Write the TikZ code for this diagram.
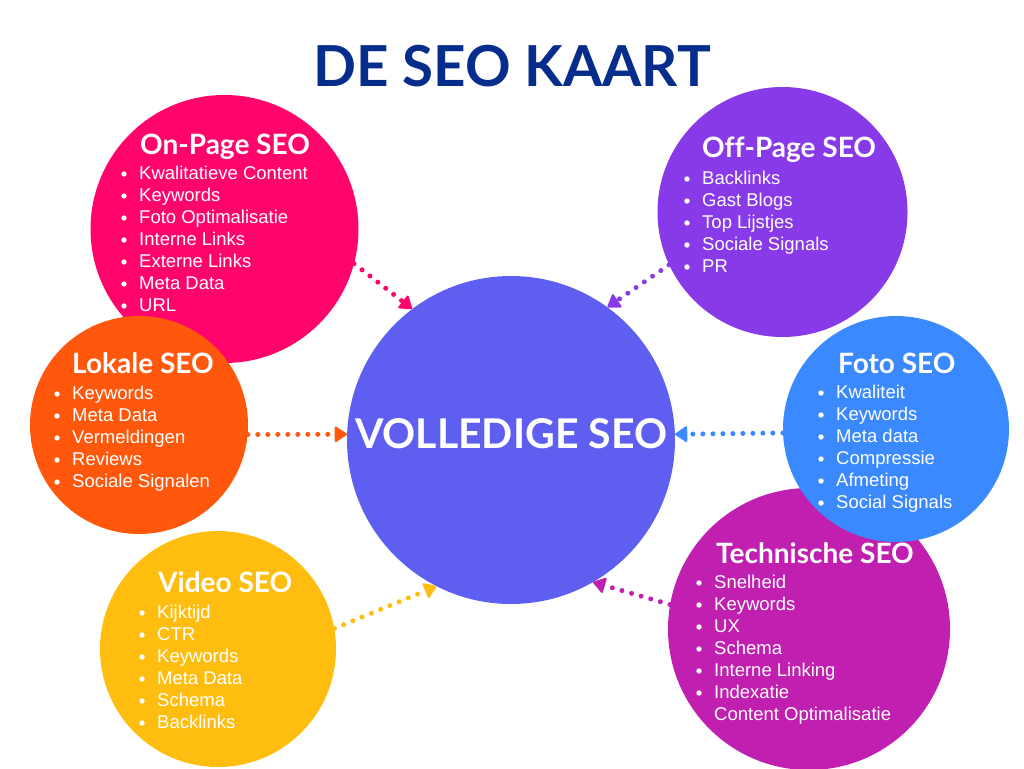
\documentclass[tikz,border=0pt]{standalone}
\usepackage{fontspec}
\setmainfont{Liberation Sans}
\newfontfamily\latofont{Lato}[Ligatures=NoCommon]
\usetikzlibrary{arrows.meta}

\definecolor{kaartnavy}{HTML}{062C8C}
\definecolor{seoblue}{HTML}{5E5FF0}
\definecolor{onpagepink}{HTML}{FF056C}
\definecolor{offpagepurple}{HTML}{883AE8}
\definecolor{lokaleorange}{HTML}{FF580C}
\definecolor{fotoblue}{HTML}{3B89FF}
\definecolor{videoyellow}{HTML}{FFBE0F}
\definecolor{technischemagenta}{HTML}{C01FB0}

\tikzset{
  bubble/.style={circle, inner sep=0pt, minimum size=#1},
  head/.style={font=\latofont\bfseries\fontsize{28}{30}\selectfont, text=white, anchor=base west, inner sep=0pt},
  point/.style={font=\fontsize{18.5}{22}\selectfont, text=white, anchor=base west, inner sep=0pt},
  link/.style={line width=5pt, line cap=round, dash pattern=on 0pt off 10pt,
    -{Triangle[length=13pt, width=17pt, line width=2pt, round]}},
}

% list of points with white bullets
\newcommand{\seopoints}[4]{%
  \foreach \txt [count=\i] in {#4} {
    \node[point] (#1-\i) at (#2, #3+22*\i-22) {\txt};
    \fill[white] (#2-15, #3+22*\i-27) circle (2.7pt);
  }}

\begin{document}
\begin{tikzpicture}[x=1pt, y=-1pt]
			\useasboundingbox (0,0) rectangle (1024,768);
			
			\node[font=\latofont\bfseries\fontsize{56.5}{60}\selectfont, text=kaartnavy, anchor=base, inner sep=0pt] (titel) at (512, 86) {DE SEO KAART};
			
			%%%%% CIRCLES %%%%%
			\node[bubble=268pt, fill=onpagepink] (onpage) at (224.5, 229) {};
			\node[bubble=250pt, fill=offpagepurple] (offpage) at (782.5, 212) {};
			\node[bubble=236pt, fill=videoyellow] (video) at (218, 649) {};
			\node[bubble=218pt, fill=lokaleorange] (lokale) at (139, 425) {};
			\node[bubble=282pt, fill=technischemagenta] (technische) at (809, 629) {};
			\node[bubble=226pt, fill=fotoblue] (foto) at (896, 429) {};
			\node[bubble=328pt, fill=seoblue] (seo) at (511, 440) {};
			
			\node[font=\latofont\bfseries\fontsize{41}{44}\selectfont, text=white, anchor=base, inner sep=0pt] (volledig) at (511, 448) {VOLLEDIGE SEO};
			
			%%%%% TEXTS %%%%%
			\node[head] (onpagekop) at (140, 154) {On-Page SEO};
			\seopoints{onpagelijst}{139}{179}{Kwalitatieve Content, Keywords, Foto Optimalisatie, Interne Links, Externe Links, Meta Data, URL}
			
			\node[head] (offpagekop) at (702, 157) {Off-Page SEO};
			\seopoints{offpagelijst}{702}{184}{Backlinks, Gast Blogs, Top Lijstjes, Sociale Signals, PR}
			
			\node[head] (lokalekop) at (72, 373) {Lokale SEO};
			\seopoints{lokalelijst}{72}{399}{Keywords, Meta Data, Vermeldingen, Reviews, Sociale Signalen}
			
			\node[head] (fotokop) at (838, 373) {Foto SEO};
			\seopoints{fotolijst}{836}{398}{Kwaliteit, Keywords, Meta data, Compressie, Afmeting, Social Signals}
			
			\node[head] (videokop) at (158, 592) {Video SEO};
			\seopoints{videolijst}{157}{618}{Kijktijd, CTR, Keywords, Meta Data, Schema, Backlinks}
			
			\node[head] (technischekop) at (716, 563) {Technische SEO};
			\seopoints{technischelijst}{714}{588}{Snelheid, Keywords, UX, Schema, Interne Linking, Indexatie}
			\node[point] (technischelijst-7) at (714, 720) {Content Optimalisatie};
			
			%%%%% LINKS %%%%%
			\draw[link, onpagepink] (onpage.-15) -- (seo.127);
			\draw[link, offpagepurple] (offpage.205) -- (seo.54);
			\draw[link, lokaleorange] (lokale.-5) -- (seo.178);
			\draw[link, fotoblue] (foto.182) -- (seo.2);
			\draw[link, videoyellow] (video.10) -- (seo.243);
			\draw[link, technischemagenta] (technische.170) -- (seo.-60);
			
		\end{tikzpicture}
\end{document}
